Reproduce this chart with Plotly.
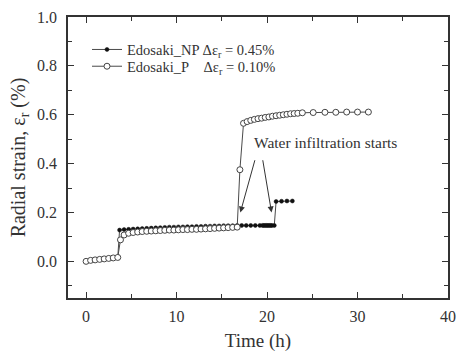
import plotly.graph_objects as go

# Edosaki, not pre-wetted (NP): time (h) and radial strain (%)
time_np = [3.5, 3.7, 4.2, 4.7, 5.2, 5.7, 6.2, 6.7, 7.2, 7.7, 8.2, 8.7, 9.2, 9.7,
           10.2, 10.7, 11.2, 11.7, 12.2, 12.7, 13.2, 13.7, 14.2, 14.7, 15.2, 15.7,
           16.2, 16.7, 17.2, 17.7, 18.2, 18.7, 19.2, 19.5, 19.65, 19.8, 19.95,
           20.1, 20.25, 20.4, 20.55, 20.8, 21.0, 21.6, 22.2, 22.8]
strain_np = [0.016, 0.128, 0.130, 0.131, 0.132, 0.133, 0.134, 0.135, 0.136, 0.137,
             0.138, 0.139, 0.140, 0.140, 0.141, 0.141, 0.142, 0.142, 0.143, 0.143,
             0.144, 0.144, 0.145, 0.145, 0.146, 0.146, 0.146, 0.147, 0.147, 0.147,
             0.147, 0.147, 0.147, 0.147, 0.147, 0.147, 0.147, 0.147, 0.147, 0.147,
             0.147, 0.147, 0.245, 0.246, 0.247, 0.247]

# Edosaki, pre-wetted (P): time (h) and radial strain (%)
time_p = [0.0, 0.5, 1.0, 1.5, 2.0, 2.5, 3.0, 3.5, 3.8, 4.2, 4.7, 5.2, 5.7, 6.2,
          6.7, 7.2, 7.7, 8.2, 8.7, 9.2, 9.7, 10.2, 10.7, 11.2, 11.7, 12.2, 12.7,
          13.2, 13.7, 14.2, 14.7, 15.2, 15.7, 16.2, 16.7, 17.0, 17.4, 17.8, 18.2,
          18.6, 19.0, 19.4, 19.8, 20.2, 20.6, 21.0, 21.4, 21.8, 22.2, 22.6, 23.0,
          23.4, 23.9, 25.1, 26.4, 27.6, 28.8, 30.0, 31.2]
strain_p = [0.000, 0.004, 0.006, 0.008, 0.010, 0.012, 0.014, 0.016, 0.088, 0.108,
            0.115, 0.118, 0.120, 0.122, 0.123, 0.124, 0.125, 0.126, 0.127, 0.128,
            0.128, 0.129, 0.130, 0.130, 0.131, 0.131, 0.132, 0.133, 0.134, 0.135,
            0.136, 0.137, 0.138, 0.139, 0.140, 0.375, 0.565, 0.572, 0.577, 0.581,
            0.584, 0.586, 0.589, 0.591, 0.594, 0.596, 0.598, 0.600, 0.602, 0.604,
            0.605, 0.606, 0.608, 0.609, 0.610, 0.610, 0.611, 0.611, 0.611]

legend_np = "Edosaki_NP Δε<sub>r</sub> = 0.45%"
legend_p = "Edosaki_P&nbsp;&nbsp;&nbsp;&nbsp;Δε<sub>r</sub> = 0.10%"
note_text = "Water infiltration starts"

# arrow tips and tails as (time, strain)
arrow_tips = [(17.05, 0.20), (20.5, 0.20)]
arrow_tails = [(18.7, 0.42), (19.5, 0.42)]

FONT = "Liberation Serif, Times New Roman, serif"
INK = "#333333"
LINE = "#4a4a4a"

fig = go.Figure()
fig.add_trace(go.Scatter(
    x=time_np, y=strain_np, mode="lines+markers", name=legend_np,
    legend="legend",
    line=dict(color=LINE, width=1),
    marker=dict(symbol="circle", size=4, color="#111111",
                line=dict(color="#111111", width=0.5)),
))
fig.add_trace(go.Scatter(
    x=time_p, y=strain_p, mode="lines+markers", name=legend_p,
    legend="legend2",
    line=dict(color=LINE, width=1),
    marker=dict(symbol="circle", size=6, color="white",
                line=dict(color="#444444", width=1)),
))

for (tx, ty), (hx, hy) in zip(arrow_tips, arrow_tails):
    fig.add_annotation(x=tx, y=ty, ax=hx, ay=hy, xref="x", yref="y",
                       axref="x", ayref="y", text="", showarrow=True,
                       arrowhead=2, arrowsize=1.2, arrowwidth=1,
                       arrowcolor=INK)

fig.add_annotation(x=18.3, y=0.485, xref="x", yref="y", text=note_text,
                   showarrow=False, xanchor="left", yanchor="middle",
                   font=dict(family=FONT, size=15.5, color=INK))

axis_common = dict(
    showline=True, linecolor=INK, linewidth=1.5, mirror="allticks",
    ticks="inside", ticklen=6, tickwidth=1.2, tickcolor=INK,
    showgrid=False, zeroline=False,
    tickfont=dict(family=FONT, size=16, color=INK),
)

fig.update_xaxes(
    range=[-2, 40], tickvals=[0, 10, 20, 30, 40],
    minor=dict(tickvals=[5, 15, 25, 35], ticks="inside", ticklen=4,
               tickwidth=1.2, tickcolor=INK),
    title=dict(text="Time (h)", font=dict(family=FONT, size=19, color=INK),
               standoff=10),
    ticklabelstandoff=3,
    **axis_common,
)
fig.update_yaxes(
    range=[-0.15, 1.0], tickvals=[0.0, 0.2, 0.4, 0.6, 0.8, 1.0],
    tickformat=".1f",
    minor=dict(tickvals=[-0.1, 0.1, 0.3, 0.5, 0.7, 0.9], ticks="inside",
               ticklen=4, tickwidth=1.2, tickcolor=INK),
    title=dict(text="Radial strain, ε<sub>r</sub> (%)",
               font=dict(family=FONT, size=20, color=INK), standoff=6),
    ticklabelstandoff=6,
    **axis_common,
)

legend_style = dict(xanchor="left", yanchor="middle",
                    bgcolor="rgba(0,0,0,0)", borderwidth=0,
                    font=dict(family=FONT, size=14.5, color=INK),
                    itemwidth=30)

fig.update_layout(
    width=465, height=357,
    margin=dict(l=68, r=9, t=14, b=58),
    paper_bgcolor="white", plot_bgcolor="white",
    showlegend=True,
    legend=dict(x=0.05, y=1 - (47 - 14) / 285, **legend_style),
    legend2=dict(x=0.05, y=1 - (64 - 14) / 285, **legend_style),
)

fig.write_html("out.html")
